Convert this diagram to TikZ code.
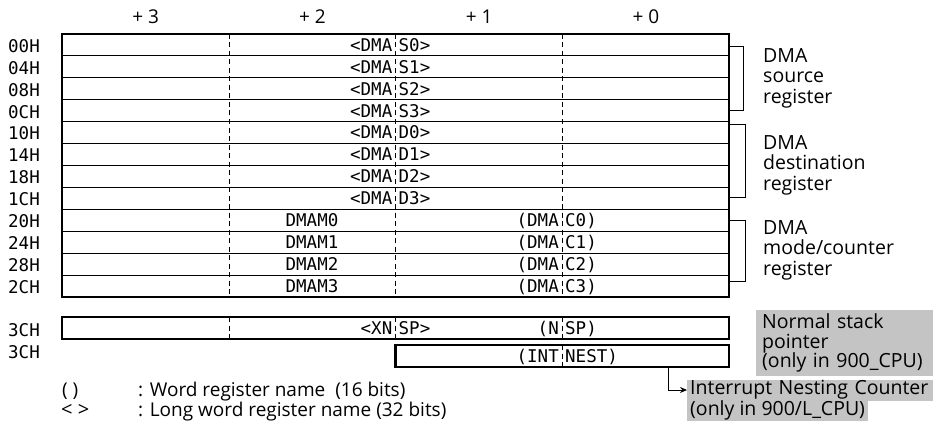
\documentclass[tikz,border=0pt]{standalone}
\usepackage{fontspec}
\setmainfont{Open Sans}
\newfontfamily\regfont{DejaVu Sans Mono}
\usetikzlibrary{arrows.meta,positioning,calc}
\definecolor{NoteGray}{HTML}{C4C4C4}

\begin{document}
\begin{tikzpicture}[x=1pt,y=-1pt,
  reg/.style={font=\regfont\fontsize{17.5}{18}\selectfont,inner sep=0pt,text height=16.8pt,text depth=4pt},
  desc/.style={font=\fontsize{19.5}{20.5}\selectfont,align=left,anchor=west,inner sep=0pt},
  note/.style={fill=NoteGray,font=\fontsize{19.5}{19.5}\selectfont,align=left},
  legend/.style={font=\fontsize{19}{19}\selectfont,inner sep=0pt,anchor=west,text height=13pt,text depth=3pt},
  frame/.style={line width=2.2pt},
  thin/.style={line width=0.8pt},
  cut/.style={line width=0.9pt,dash pattern=on 5pt off 3.5pt},
  arrow/.style={-{Stealth[length=7pt,width=6pt]},line width=0.9pt}
]
  \useasboundingbox (0,0) rectangle (933,425);
  % byte offsets
  \foreach \lab [count=\i from 0] in {+ 3,+ 2,+ 1,+ 0}
    \node[font=\fontsize{19}{19}\selectfont] (off\i) at ({145.6+166.75*\i},17) {\lab};
  % addresses
  \foreach \adr [count=\i from 0] in {00H,04H,08H,0CH,10H,14H,18H,1CH,20H,24H,28H,2CH}
    \node[reg,anchor=west] (adr\i) at (8,{35+21.9*(\i+0.5)}) {\adr};
  \node[reg,anchor=west] (adrsp) at (8,330) {3CH};
  \node[reg,anchor=west] (adrint) at (8,352) {3CH};

  % register map
  \foreach \i in {1,...,11}
    \draw[thin] (62,{34+21.9*\i}) -- (729,{34+21.9*\i});
  \foreach \x in {229,395.5,562}
    \draw[cut] (\x,34) -- (\x,296.8);
  \draw[frame] (62,34) rectangle (729,296.8);
  \foreach \n [count=\i from 0] in {S0,S1,S2,S3,D0,D1,D2,D3}{
    \node[reg,anchor=east] (addrA\i) at (392.5,{34+21.9*(\i+0.5)}) {<DMA};
    \node[reg,anchor=west] (addrB\i) at (398.5,{34+21.9*(\i+0.5)}) {\n>};
  }
  \foreach \i in {0,...,3}{
    \node[reg] (mode\i) at (312,{34+21.9*(\i+8.5)}) {DMAM\i};
    \node[reg,anchor=east] (cntA\i) at (559,{34+21.9*(\i+8.5)}) {(DMA};
    \node[reg,anchor=west] (cntB\i) at (565,{34+21.9*(\i+8.5)}) {C\i)};
  }

  % stack pointer, nesting counter
  \foreach \x in {229,395.5,562}
    \draw[cut] (\x,317) -- (\x,339);
  \draw[frame] (62,317) rectangle (729,339);
  \node[reg,anchor=east] (xspA) at (392.5,328) {<XN};
  \node[reg,anchor=west] (xspB) at (398.5,328) {SP>};
  \node[reg,anchor=east] (nspA) at (559,328) {(N};
  \node[reg,anchor=west] (nspB) at (565,328) {SP)};
  \draw[cut] (562,345) -- (562,367);
  \draw[frame] (395.5,345) rectangle (729,367);
  \node[reg,anchor=east] (nestA) at (559,356) {(INT};
  \node[reg,anchor=west] (nestB) at (565,356) {NEST)};

  % groups
  \draw[thin] (729,46) -| (743,110) -- (729,110);
  \draw[thin] (729,124) -| (745,197) -- (729,197);
  \draw[thin] (729,220) -| (745,281) -- (729,281);
  \node[desc] (srcnote) at (763,78) {DMA\\source\\register};
  \node[desc] (dstnote) at (763,165) {DMA\\destination\\register};
  \node[desc] (modenote) at (763,250) {DMA\\mode/counter\\register};

  % notes
  \node[note,anchor=north west,inner xsep=6pt,inner ysep=2pt,text width=165pt,minimum height=66pt] (spnote) at (756,310) {Normal stack\\pointer\\(only in 900\_CPU)};
  \node[note,anchor=west,inner xsep=3pt,inner ysep=0pt,minimum height=21pt,text width=240pt] (intnote) at (687,390) {Interrupt Nesting Counter};
  \node[note,inner xsep=3pt,inner ysep=0pt,minimum height=20pt,below right=0pt and 0pt of intnote.south west] (intcpu) {(only in 900/L\_CPU)};
  \coordinate (intfoot) at (668,367);
  \draw[arrow] (intfoot) |- (intnote.west);

  % legend
  \node[legend] (wordsym) at (62,391) {( )};
  \node[legend] (wordtxt) at (138,391) {: Word register name\ \ (16 bits)};
  \node[legend,font=\fontsize{20}{20}\selectfont] (longsym) at (61,411) {< >};
  \node[legend] (longtxt) at (138,411) {: Long word register name (32 bits)};
\end{tikzpicture}
\end{document}
